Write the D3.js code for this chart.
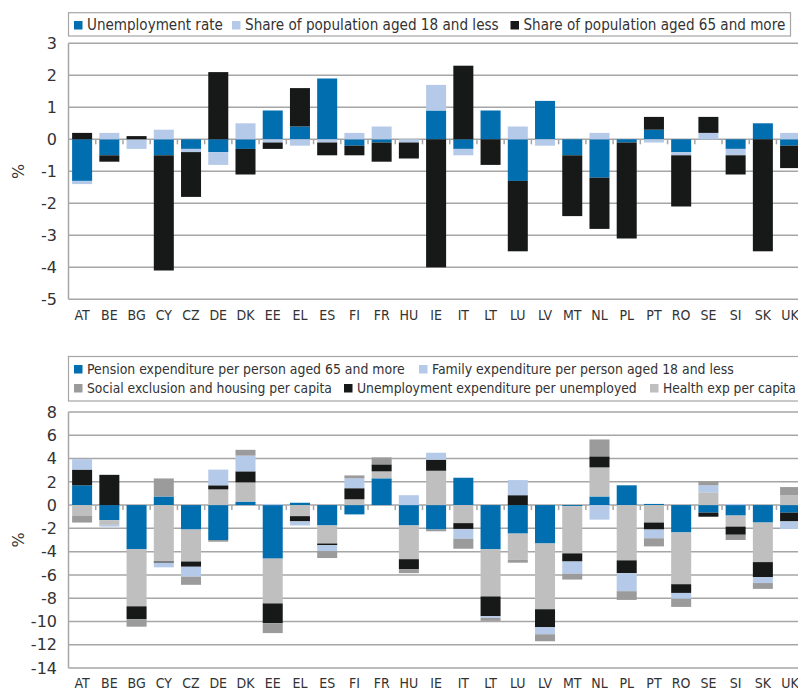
<!DOCTYPE html>
<html><head><meta charset="utf-8">
<script src="https://cdn.jsdelivr.net/npm/d3@7"></script>
<style>
html,body{margin:0;padding:0;background:#fff;}
svg{display:block;}
text{fill:#333;}
</style></head>
<body>
<script>
const countries = ["AT","BE","BG","CY","CZ","DE","DK","EE","EL","ES","FI","FR","HU","IE","IT","LT","LU","LV","MT","NL","PL","PT","RO","SE","SI","SK","UK"];

// Top chart series
const unemploymentRate = [-1.3,-0.5,0,-0.5,-0.3,-0.4,-0.3,0.9,0.4,1.9,-0.2,-0.1,0,0.9,-0.3,0.9,-1.3,1.2,-0.5,-1.2,-0.1,0.3,-0.4,0,-0.3,0.5,-0.2];
const shareAged18 = [-0.1,0.2,-0.3,0.3,-0.1,-0.4,0.5,-0.1,-0.2,-0.1,0.2,0.4,-0.1,0.8,-0.2,0,0.4,-0.2,0,0.2,0,-0.1,-0.1,0.2,-0.2,0,0.2];
const shareAged65 = [0.2,-0.2,0.1,-3.6,-1.4,2.1,-0.8,-0.2,1.2,-0.4,-0.3,-0.6,-0.5,-4.0,2.3,-0.8,-2.2,0,-1.9,-1.6,-3.0,0.4,-1.6,0.5,-0.6,-3.5,-0.7];
const topTicks = [3,2,1,0,-1,-2,-3,-4,-5];

// Bottom chart series
const pensionExp = [1.7,-1.3,-3.8,0.74,-2.1,-3.0,0.3,-4.6,0.2,-1.75,-0.8,2.3,-1.75,-2.1,2.35,-3.8,-2.45,-3.3,-0.1,0.74,1.7,0.1,-2.35,-0.65,-0.9,-1.5,-0.65];
const healthExp = [-0.9,-0.4,-4.9,-4.85,-2.75,1.35,1.65,-3.85,-0.95,-1.55,0.5,0.6,-2.9,2.95,-1.55,-4.05,-2.25,-5.65,-4.05,2.5,-4.75,-1.5,-4.45,1.1,-0.95,-3.4,0.85];
const unemploymentExp = [1.35,2.6,-1.1,-0.1,-0.45,0.35,0.95,-1.7,-0.45,-0.15,0.95,0.6,-0.85,0.95,-0.5,-1.7,0.85,-1.55,-0.7,0.95,-1.1,-0.6,-0.75,-0.35,-0.7,-1.3,-0.75];
const familyExp = [0.9,-0.15,0,-0.4,-0.85,1.35,1.35,0.1,-0.35,-0.5,0.85,0,0.85,0.6,-0.85,-0.15,1.3,-0.6,-1.05,-1.25,-1.55,-0.75,-0.5,0.6,0.1,-0.5,-0.65];
const socialExp = [-0.6,0,-0.65,1.55,-0.7,-0.15,0.5,-0.85,0,-0.6,0.25,0.6,-0.35,-0.15,-0.85,-0.25,-0.25,-0.6,-0.5,1.45,-0.75,-0.7,-0.7,0.35,-0.45,-0.5,0.7];
const bottomTicks = [8,6,4,2,0,-2,-4,-6,-8,-10,-12,-14];

const C = {blue:"#006eaf", light:"#b5cae8", black:"#171918", gray:"#9b9b9b", lgray:"#bebfbe"};

const W = 798, H = 692;
const svg = d3.select("body").append("svg").attr("width", W).attr("height", H);

const plotLeft = 68.5, step = 27.23;
const x = d3.scaleBand().domain(countries)
  .range([plotLeft, plotLeft + step*countries.length])
  .paddingInner(0.265).paddingOuter(0.1325);

const fontTick = "'DejaVu Sans', sans-serif";
const fontCond = "'DejaVu Sans Condensed','Liberation Sans Narrow','Roboto Condensed','DejaVu Sans',sans-serif";

function drawChart(cfg){
  const y = d3.scaleLinear().domain([cfg.min, cfg.max]).range([cfg.bottom, cfg.top]);
  const g = svg.append("g");
  // gridlines
  g.selectAll(".grid").data(cfg.ticks.filter(t => t !== cfg.min)).join("line")
    .attr("x1", plotLeft).attr("x2", W)
    .attr("y1", d => y(d)).attr("y2", d => y(d))
    .attr("stroke", "#a6a6a6").attr("stroke-width", 1.5);
  // stacked bars
  const rows = countries.map((c,i) => {
    const r = {country:c};
    cfg.series.forEach(s => r[s.key] = s.values[i]);
    return r;
  });
  const stack = d3.stack().keys(cfg.series.map(s => s.key))
    .order(d3.stackOrderNone).offset(d3.stackOffsetDiverging);
  const layers = stack(rows);
  layers.forEach((layer, li) => {
    g.append("g").attr("fill", cfg.series[li].color)
      .selectAll("rect").data(layer).join("rect")
      .attr("x", d => x(d.data.country))
      .attr("width", x.bandwidth())
      .attr("y", d => y(Math.max(d[0], d[1])))
      .attr("height", d => Math.abs(y(d[0]) - y(d[1])));
  });
  // zero line tick marks between categories
  const bounds = countries.slice(1).map(c => x(c) - (x.step()-x.bandwidth())/2);
  g.selectAll(".tk").data(bounds).join("line")
    .attr("x1", d => d).attr("x2", d => d)
    .attr("y1", y(0)).attr("y2", y(0)+5)
    .attr("stroke", "#a6a6a6").attr("stroke-width", 1.5);
  // axes lines
  g.append("line").attr("x1", plotLeft).attr("x2", plotLeft)
    .attr("y1", cfg.top).attr("y2", cfg.bottom).attr("stroke", "#a6a6a6").attr("stroke-width", 1.5);
  g.append("line").attr("x1", plotLeft).attr("x2", W)
    .attr("y1", cfg.bottom).attr("y2", cfg.bottom).attr("stroke", "#a6a6a6").attr("stroke-width", 1.5);
  // y tick labels
  g.selectAll(".yl").data(cfg.ticks).join("text")
    .attr("x", 57).attr("y", d => y(d)).attr("dy", "0.36em")
    .attr("text-anchor", "end").attr("font-family", fontTick).attr("font-size", 16)
    .text(d => d);
  // x labels
  g.selectAll(".xl").data(countries).join("text")
    .attr("x", d => x(d) + x.bandwidth()/2).attr("y", cfg.xLabelY)
    .attr("text-anchor", "middle").attr("font-family", fontCond).attr("font-size", 14)
    .text(d => d);
  // % label
  const cy = (cfg.top + cfg.bottom)/2;
  g.append("text").attr("transform", `translate(24,${cy}) rotate(-90)`)
    .attr("text-anchor", "middle").attr("font-family", fontTick).attr("font-size", 16).text("%");
  // legend
  g.append("rect").attr("x", plotLeft).attr("y", cfg.legendBox[0])
    .attr("width", cfg.legendBox[2] - plotLeft).attr("height", cfg.legendBox[1] - cfg.legendBox[0])
    .attr("fill", "#fff").attr("stroke", "#a6a6a6").attr("stroke-width", 1.2);
  cfg.legend.forEach(it => {
    const s = cfg.series.find(s => s.key === it.key);
    g.append("rect").attr("x", it.x).attr("y", it.y - 9).attr("width", 8.5).attr("height", 8.5).attr("fill", s.color);
    const t = g.append("text").attr("x", it.x + 13).attr("y", it.y)
      .attr("font-family", fontCond).attr("font-size", 16)
      .text(s.label);
    const len = t.node().getComputedTextLength();
    if (len > 0) t.attr("font-size", Math.min(16, 16 * it.w / len));
  });
}

drawChart({
  min:-5, max:3, top:43.3, bottom:299.3, ticks: topTicks, xLabelY: 320,
  legendBox:[12.7, 36, 790.5],
  series:[
    {key:"u", label:"Unemployment rate", values: unemploymentRate, color:C.blue},
    {key:"s18", label:"Share of population aged 18 and less", values: shareAged18, color:C.light},
    {key:"s65", label:"Share of population aged 65 and more", values: shareAged65, color:C.black}
  ],
  legend:[
    {key:"u", x:74, y:30, w:136},
    {key:"s18", x:232, y:30, w:254},
    {key:"s65", x:510.5, y:30, w:262}
  ]
});

drawChart({
  min:-14, max:8, top:412, bottom:668, ticks: bottomTicks, xLabelY: 688,
  legendBox:[356.5, 401, 800],
  series:[
    {key:"pen", label:"Pension expenditure per person aged 65 and more", values: pensionExp, color:C.blue},
    {key:"hea", label:"Health exp per capita", values: healthExp, color:C.lgray},
    {key:"une", label:"Unemployment expenditure per unemployed", values: unemploymentExp, color:C.black},
    {key:"fam", label:"Family expenditure per person aged 18 and less", values: familyExp, color:C.light},
    {key:"soc", label:"Social exclusion and housing per capita", values: socialExp, color:C.gray}
  ],
  legend:[
    {key:"pen", x:74, y:374, w:318},
    {key:"fam", x:419, y:374, w:302},
    {key:"soc", x:74, y:393, w:245},
    {key:"une", x:344, y:393, w:280},
    {key:"hea", x:650, y:393, w:133}
  ]
});
</script>
</body></html>
